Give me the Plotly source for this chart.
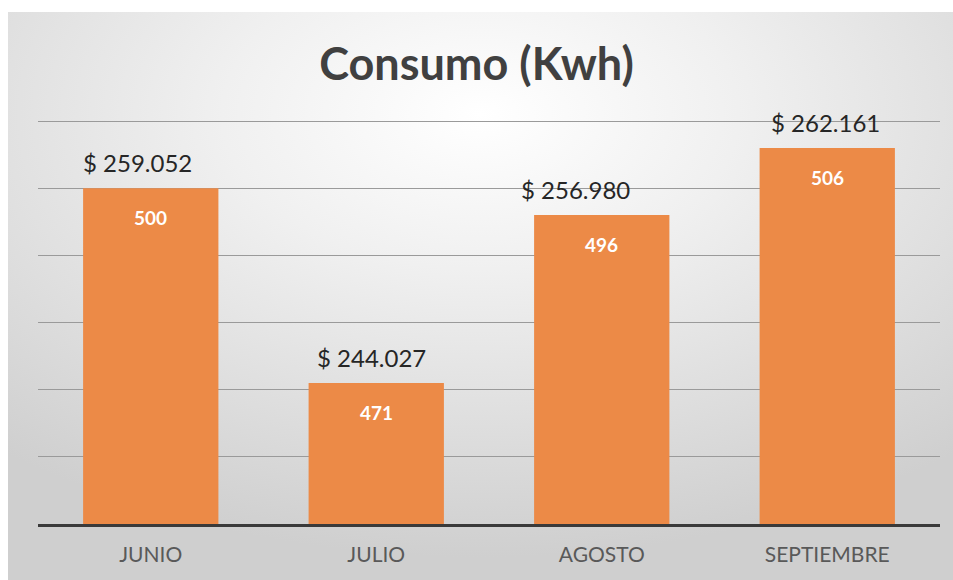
import base64
import plotly.graph_objects as go

months = ["JUNIO", "JULIO", "AGOSTO", "SEPTIEMBRE"]
kwh = [500, 471, 496, 506]
cost_labels = ["$ 259.052", "$ 244.027", "$ 256.980", "$ 262.161"]

# horizontal nudges of the cost labels (style only)
label_xshift = [-13, -5, -26, -2]

BAR_COLOR = "#EC8A47"

svg = (
    '<svg xmlns="http://www.w3.org/2000/svg" width="945" height="568" preserveAspectRatio="none" viewBox="0 0 945 568">'
    '<defs><radialGradient id="g" cx="0.5" cy="0.18" r="0.78" fx="0.5" fy="0.18">'
    '<stop offset="0" stop-color="#FFFFFF"/>'
    '<stop offset="0.35" stop-color="#F0F0F0"/>'
    '<stop offset="1" stop-color="#CFCFCF"/>'
    '</radialGradient></defs>'
    '<rect x="0" y="0" width="945" height="568" fill="url(#g)"/></svg>'
)
bg_uri = "data:image/svg+xml;base64," + base64.b64encode(svg.encode()).decode()

fig = go.Figure()
fig.add_trace(go.Bar(
    x=months, y=kwh,
    marker=dict(color=BAR_COLOR, line=dict(width=0)),
    width=0.6, hoverinfo="x+y",
))

annotations = []
for m, v, c, dx in zip(months, kwh, cost_labels, label_xshift):
    annotations.append(dict(
        x=m, y=v, xref="x", yref="y", text=c, showarrow=False,
        yanchor="bottom", yshift=9, xshift=dx,
        font=dict(family="Lato", size=24, color="#262626"),
    ))
    annotations.append(dict(
        x=m, y=v, xref="x", yref="y", text="<b>%d</b>" % v, showarrow=False,
        yanchor="top", yshift=-16,
        font=dict(family="Lato", size=19, color="#FFFFFF"),
    ))

L, R, T, B = 38, 13, 119, 56
W, H = 953, 580
pw, ph = W - L - R, H - T - B
x0 = (8 - L) / pw
y1 = (H - B - 12) / ph
sx = (W - 8) / pw
sy = (H - 12) / ph

fig.update_layout(
    width=W, height=H,
    margin=dict(l=L, r=R, t=T, b=B),
    paper_bgcolor="#FFFFFF",
    plot_bgcolor="rgba(0,0,0,0)",
    showlegend=False,
    title=dict(
        text="<b>Consumo (Kwh)</b>", x=0.5, xanchor="center",
        y=1 - 64 / H, yanchor="middle",
        font=dict(family="Lato", size=45, color="#404040"),
    ),
    images=[dict(
        source=bg_uri, xref="paper", yref="paper",
        x=x0, y=y1, sizex=sx, sizey=sy,
        xanchor="left", yanchor="top", sizing="stretch", layer="below",
    )],
    xaxis=dict(
        showline=True, linecolor="#3A3A3A", linewidth=3,
        ticks="", showgrid=False, ticklabelstandoff=10,
        tickfont=dict(family="Lato", size=21, color="#595959"),
    ),
    yaxis=dict(
        range=[450, 510.3], dtick=10, tick0=450,
        showticklabels=False, ticks="",
        showgrid=True, gridcolor="#9A9A9A", gridwidth=1,
        zeroline=False, showline=False,
    ),
    annotations=annotations,
    bargap=0.4,
)

fig.write_html(
    "out.html",
    config={"displayModeBar": False},
    post_script="document.body.style.margin='0';document.body.style.overflow='hidden';",
)
